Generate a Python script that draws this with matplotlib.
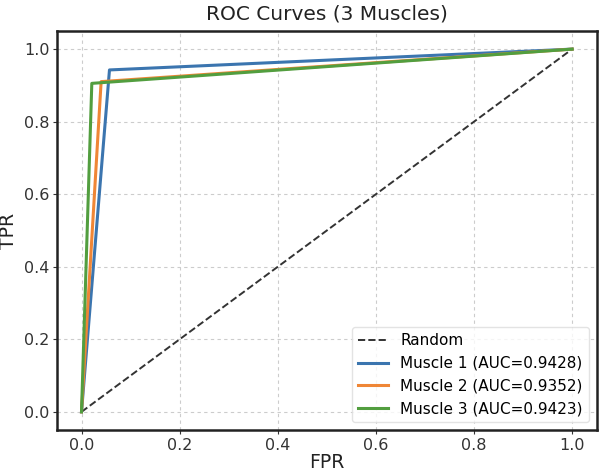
import matplotlib
matplotlib.use("Agg")
import matplotlib.pyplot as plt

labels = ["Muscle 1", "Muscle 2", "Muscle 3"]
aucs = [0.9428, 0.9352, 0.9423]
fprs = [[0.0, 0.057, 1.0], [0.0, 0.040, 1.0], [0.0, 0.021, 1.0]]
tprs = [[0.0, 0.9426, 1.0], [0.0, 0.9104, 1.0], [0.0, 0.9056, 1.0]]
colors = ["#3b75af", "#ef8636", "#529e3f"]

fig, ax = plt.subplots(figsize=(6.01, 4.73), dpi=100)
ax.plot([0, 1], [0, 1], linestyle="--", color="#333333", linewidth=1.4, label="Random")
for lab, auc, f, t, c in zip(labels, aucs, fprs, tprs, colors):
    ax.plot(f, t, color=c, linewidth=2.2, label=f"{lab} (AUC={auc:.4f})")

ax.set_title("ROC Curves (3 Muscles)", fontsize=14.5, color="#222222", pad=8)
ax.set_xlabel("FPR", fontsize=13.5, color="#222222", labelpad=0)
ax.set_ylabel("TPR", fontsize=13.5, color="#222222", labelpad=4)
ax.set_xticks([0, 0.2, 0.4, 0.6, 0.8, 1.0])
ax.set_yticks([0, 0.2, 0.4, 0.6, 0.8, 1.0])
ax.tick_params(labelsize=11.5, length=3, width=0.8, colors="#333333", pad=2.5)
ax.grid(True, linestyle=(0, (3, 3)), color="#cccccc", linewidth=0.8)
for s in ax.spines.values():
    s.set_linewidth(1.8)
    s.set_color("#222222")
leg = ax.legend(loc="lower right", fontsize=11, frameon=True, fancybox=True)
leg.get_frame().set_edgecolor("#dddddd")
fig.subplots_adjust(left=0.0948, right=0.9928, top=0.9345, bottom=0.0909)
fig.savefig("out.png", dpi=100)
